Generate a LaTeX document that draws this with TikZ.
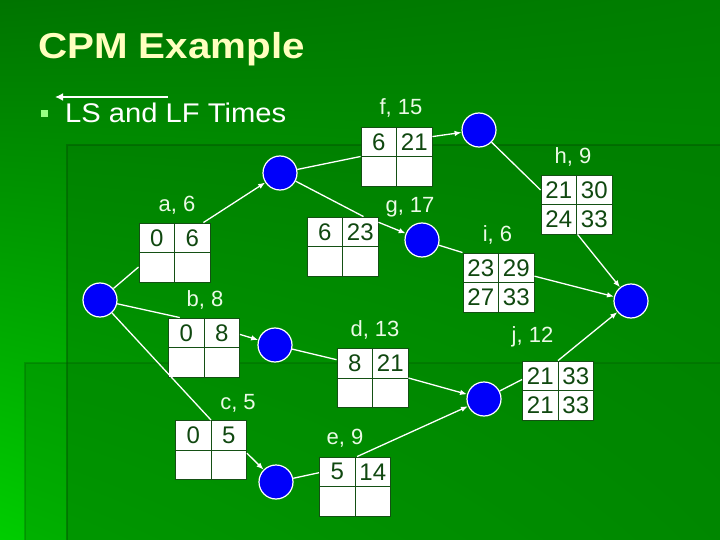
\documentclass[tikz,border=0pt]{standalone}
\usepackage{fontspec}
\setmainfont{Liberation Sans}
\newfontfamily\titlefont[FakeStretch=1.12]{Liberation Sans}
\newfontfamily\subfont[FakeStretch=1.08]{Liberation Sans}
\definecolor{slideUL}{RGB}{0,116,0}
\definecolor{slideUR}{RGB}{0,126,0}
\definecolor{slideLL}{RGB}{0,205,0}
\definecolor{slideLR}{RGB}{0,158,0}
\definecolor{panelA}{RGB}{0,120,0}
\definecolor{panelB}{RGB}{0,128,0}
\definecolor{paneledge}{RGB}{0,88,0}
\definecolor{titleyellow}{RGB}{255,255,190}
\definecolor{bulletgreen}{RGB}{150,255,130}
\definecolor{evtblue}{RGB}{0,0,250}
\definecolor{cellline}{RGB}{20,80,20}
\definecolor{numgreen}{RGB}{16,72,16}
\definecolor{lblwhite}{RGB}{235,250,230}
\usetikzlibrary{arrows.meta,positioning,calc,shadings}

\begin{document}
\begin{tikzpicture}[x=1pt, y=-1pt,
      arr/.style={-{Latex[length=7pt,width=5.5pt]}, line width=1.3pt, white},
      link/.style={line width=1.3pt, white},
      evt/.style={circle, draw=white, line width=1.2pt, fill=evtblue,
                  minimum size=34pt, inner sep=0pt},
      actbox/.style={draw=cellline, line width=0.9pt, fill=white,
                     minimum width=71pt, minimum height=59pt, inner sep=0pt},
      num/.style={font=\fontsize{24}{24}\selectfont, text=numgreen, inner sep=0pt},
      lbl/.style={font=\fontsize{22}{22}\selectfont, text=lblwhite, inner sep=0pt}
    ]
    % slide background
    \useasboundingbox (0,0) rectangle (720,540);
    \shade[upper left=slideUL, upper right=slideUR, lower left=slideLL, lower right=slideLR]
      (0,0) rectangle (720,540);
    \fill[panelA, opacity=0.45] (67,145) rectangle (720,540);
    \fill[panelB, opacity=0.35] (25,363) rectangle (720,540);
    \draw[paneledge, line width=2.5pt, opacity=0.5] (720,145) -- (67,145) -- (67,540);
    \draw[paneledge, line width=2.5pt, opacity=0.3] (720,363) -- (25,363) -- (25,540);

    % heading
    \node[anchor=base west, inner sep=0pt, text=titleyellow,
          font=\titlefont\bfseries\fontsize{36}{36}\selectfont] (title) at (38,59) {CPM Example};
    \node[fill=bulletgreen, minimum size=7pt, inner sep=0pt] (bul) at (44,113.5) {};
    \node[anchor=base west, inner sep=0pt, text=white,
          font=\subfont\fontsize{27}{27}\selectfont] (sub) at (65,123) {LS and LF Times};
    \coordinate (lsR) at (168,97);
    \coordinate (lsL) at (55,97);
    \draw[white, line width=2.6pt, -{Latex[length=8pt,width=8pt]}] (lsR) -- (lsL);

    % events
    \node[evt] (n1) at (100,300) {};
    \node[evt] (n2) at (280,173) {};
    \node[evt] (n3) at (275,345) {};
    \node[evt] (n4) at (276,482) {};
    \node[evt] (n5) at (479,130) {};
    \node[evt] (n6) at (422,240) {};
    \node[evt] (n7) at (484,399) {};
    \node[evt] (n8) at (631,301) {};

    % activity boxes
    \foreach \nm/\dur/\px/\py/\tl/\tr/\dx/\dy in {
        a/6/174.5/252.5/0/6/2.5/-47.5,
        b/8/204/347.5/0/8/1/-47.5,
        c/5/211/450/0/5/27/-47,
        d/13/372.5/378/8/21/2.5/-48,
        e/9/355/486.5/5/14/-10/-48.5,
        f/15/396.5/156.5/6/21/4.5/-48.5,
        g/17/342.5/246.5/6/23/67.5/-39.5,
        h/9/576.5/204.5/21/30/-3.5/-47.5,
        i/6/498.5/282.5/23/29/-1/-47.5,
        j/12/558/390.5/21/33/-25.5/-53.5}{
      \node[actbox] (\nm) at (\px,\py) {};
      \draw[cellline, line width=0.9pt] (\nm.north) -- (\nm.south) (\nm.west) -- (\nm.east);
      \node[num] at ($(\nm.center)+(-17.75,-14.75)$) {\tl};
      \node[num] at ($(\nm.center)+(17.75,-14.75)$) {\tr};
      \node[lbl] at ($(\nm.center)+(\dx,\dy)$) {\nm, \dur};
    }
    \node[num] at ($(h.center)+(-17.75,14.75)$) {24};
    \node[num] at ($(h.center)+(17.75,14.75)$) {33};
    \node[num] at ($(i.center)+(-17.75,14.75)$) {27};
    \node[num] at ($(i.center)+(17.75,14.75)$) {33};
    \node[num] at ($(j.center)+(-17.75,14.75)$) {21};
    \node[num] at ($(j.center)+(17.75,14.75)$) {33};

    % connectors
    \draw[link] (n1) -- (a.202);
    \draw[arr] (a.46) -- (n2);
    \draw[link] (n1) -- (b.129);
    \draw[arr] (b.20) -- (n3);
    \draw[link] (n1) -- (c.north);
    \draw[arr] (c.355) -- (n4);
    \draw[link] (n4) -- (e.159);
    \draw[arr] (e.86) -- (n7);
    \draw[link] (n3) -- (d.153);
    \draw[arr] (d.east) -- (n7);
    \draw[link] (n2) -- (f.west);
    \draw[arr] (f.29) -- (n5);
    \draw[link] (n2) -- (g.55);
    \draw[arr] (g.34) -- (n6);
    \draw[link] (n5) -- (h.158);
    \draw[arr] (h.272) -- (n8);
    \draw[link] (n6) -- (i.north west);
    \draw[arr] (i.10) -- (n8);
    \draw[link] (n7) -- (j.163);
    \draw[arr] (j.north) -- (n8);
  \end{tikzpicture}
\end{document}
